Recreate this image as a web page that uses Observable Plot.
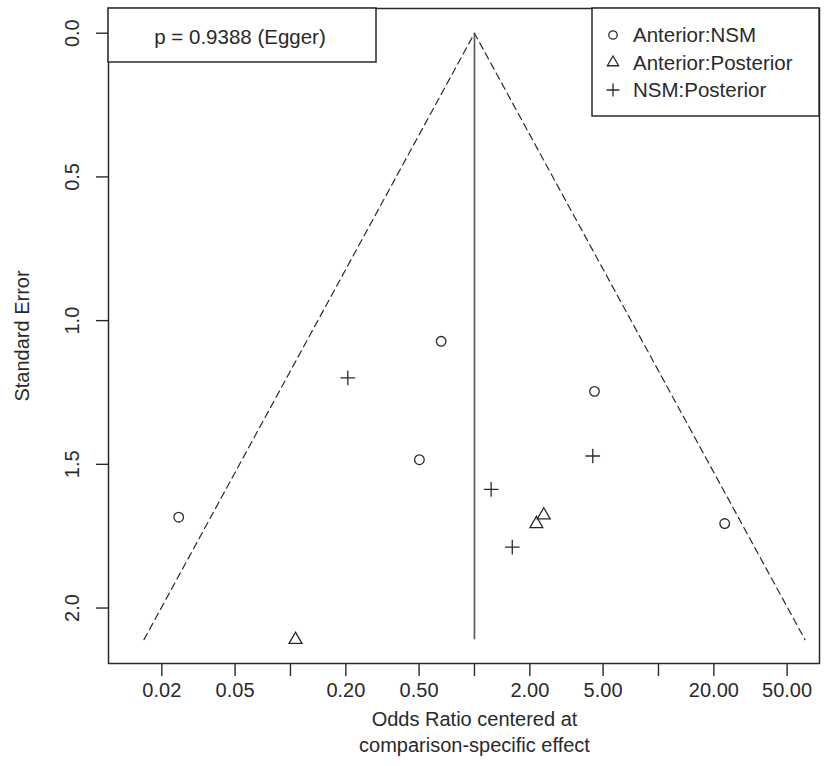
<!DOCTYPE html>
<html>
<head>
<meta charset="utf-8">
<script src="https://cdn.jsdelivr.net/npm/d3@7"></script>
<script src="https://cdn.jsdelivr.net/npm/@observablehq/plot@0.6"></script>
<style>
  body { margin: 0; background: #fff; }
  #chart svg { font-family: "Liberation Sans", Arial, sans-serif; }
</style>
</head>
<body>
<div id="chart"></div>
<script>
// ---- data ----
const comparisons = ["Anterior:NSM", "Anterior:Posterior", "NSM:Posterior"];
const comparisonSymbols = ["circle", "triangle", "plus"];

const antNsmOR = [0.659, 0.502, 0.0247, 4.49, 22.9];
const antNsmSE = [1.072, 1.484, 1.684, 1.246, 1.706];

const antPostOR = [0.1065, 2.38, 2.17];
const antPostSE = [2.11, 1.677, 1.707];

const nsmPostOR = [0.205, 1.232, 1.605, 4.395];
const nsmPostSE = [1.199, 1.587, 1.788, 1.471];

const xTicks = [0.02, 0.05, 0.1, 0.2, 0.5, 1, 2, 5, 10, 20, 50];
const xTickLabels = ["0.02", "0.05", "", "0.20", "0.50", "", "2.00", "5.00", "", "20.00", "50.00"];
const yTicks = [0, 0.5, 1, 1.5, 2];
const yTickLabels = ["0.0", "0.5", "1.0", "1.5", "2.0"];

const xTitle = "Odds Ratio centered at\ncomparison-specific effect";
const yTitle = "Standard Error";
const eggerLabel = "p = 0.9388 (Egger)";

// ---- tables built from the arrays ----
const points = [
  ...antNsmOR.map((or, i) => ({or, se: antNsmSE[i], comp: comparisons[0]})),
  ...antPostOR.map((or, i) => ({or, se: antPostSE[i], comp: comparisons[1]})),
  ...nsmPostOR.map((or, i) => ({or, se: nsmPostSE[i], comp: comparisons[2]}))
];
const seMax = d3.max(points, d => d.se);
const funnel = [
  {or: Math.exp(-1.96 * seMax), se: seMax},
  {or: 1, se: 0},
  {or: Math.exp(1.96 * seMax), se: seMax}
];
const yTickTable = yTicks.map((v, i) => ({v, label: yTickLabels[i]}));
const xTickTable = xTicks.map((v, i) => ({v, label: xTickLabels[i]})).filter(d => d.label !== "");

const W = 833, H = 766;
const mL = 108, mR = 14, mT = 8, mB = 103;
const ink = "#2a2a2a";

const plot = Plot.plot({
  width: W,
  height: H,
  marginLeft: mL,
  marginRight: mR,
  marginTop: mT,
  marginBottom: mB,
  style: {fontFamily: "Liberation Sans, Arial, sans-serif", fontSize: "20px", background: "#fff", color: ink},
  x: {type: "log", domain: [0.01026, 75.0]},
  y: {domain: [2.193, -0.086]},
  symbol: {domain: comparisons, range: comparisonSymbols, legend: false},
  marks: [
    Plot.line(funnel, {x: "or", y: "se", stroke: ink, strokeWidth: 1.2, strokeDasharray: "7,4.5"}),
    Plot.ruleX([1], {y1: 0, y2: seMax, stroke: "#555", strokeWidth: 1.6}),
    Plot.dot(points, {x: "or", y: "se", symbol: "comp", r: 4.8, fill: "none", stroke: ink, strokeWidth: 1.3}),
    Plot.axisX({
      ticks: xTicks,
      tickFormat: () => "",
      tickSize: 13,
      label: null,
      stroke: ink,
      strokeWidth: 1.4
    }),
    Plot.text(xTickTable, {
      x: "v", text: "label", frameAnchor: "bottom", dy: 19,
      lineAnchor: "top", textAnchor: "middle", fill: ink
    }),
    Plot.axisY({
      ticks: yTicks,
      tickFormat: () => "",
      tickSize: 12,
      label: null,
      stroke: ink,
      strokeWidth: 1.4
    }),
    Plot.text(yTickTable, {
      y: "v", text: "label", frameAnchor: "left", dx: -36,
      rotate: -90, textAnchor: "middle", lineAnchor: "middle", fill: ink
    }),
    Plot.text([yTitle], {
      frameAnchor: "left", dx: -86, rotate: -90,
      textAnchor: "middle", lineAnchor: "middle", fill: ink
    }),
    Plot.text([xTitle], {
      frameAnchor: "bottom", dx: 10.5, dy: 44, lineAnchor: "top",
      lineHeight: 1.3, textAnchor: "middle", fill: ink
    }),
    Plot.frame({stroke: ink, strokeWidth: 1.5})
  ]
});

document.getElementById("chart").appendChild(plot);

// ---- annotation boxes (Egger p-value and legend) ----
const svg = d3.select(plot);
const frameRight = W - mR;

const pBox = svg.append("g");
pBox.append("rect")
  .attr("x", mL).attr("y", mT).attr("width", 268).attr("height", 54)
  .attr("fill", "#fff").attr("stroke", ink).attr("stroke-width", 1.5);
pBox.append("text")
  .attr("x", mL + 132).attr("y", mT + 36)
  .attr("text-anchor", "middle").attr("fill", ink)
  .attr("font-size", 20.5)
  .text(eggerLabel);

const legW = 227, legH = 108;
const leg = svg.append("g");
leg.append("rect")
  .attr("x", frameRight - legW).attr("y", mT).attr("width", legW).attr("height", legH)
  .attr("fill", "#fff").attr("stroke", ink).attr("stroke-width", 1.5);
const symMap = {circle: d3.symbolCircle, triangle: d3.symbolTriangle, plus: d3.symbolPlus};
comparisons.forEach((c, i) => {
  const cy = mT + 27 + i * 27.5;
  const cx = frameRight - legW + 21;
  leg.append("path")
    .attr("d", d3.symbol(symMap[comparisonSymbols[i]], Math.PI * 4.2 * 4.2)())
    .attr("transform", `translate(${cx},${cy})`)
    .attr("fill", "none").attr("stroke", ink).attr("stroke-width", 1.3);
  leg.append("text")
    .attr("x", cx + 20).attr("y", cy + 7)
    .attr("text-anchor", "start")
    .attr("fill", ink).attr("font-size", 20.5)
    .text(c);
});
</script>
</body>
</html>
